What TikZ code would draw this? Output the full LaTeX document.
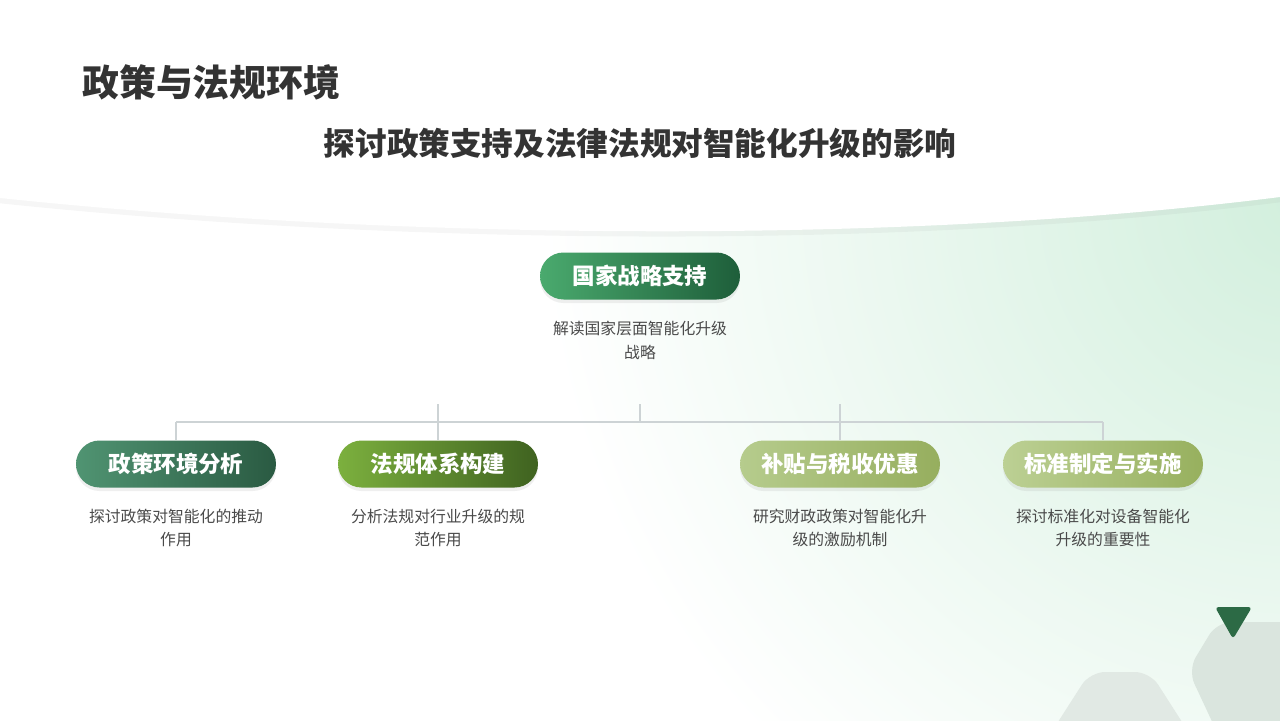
\documentclass[tikz,border=0pt]{standalone}
\usepackage{fontspec}
\setmainfont{Noto Sans CJK SC}
\usetikzlibrary{shadows}
\definecolor{titlegray}{HTML}{333333}
\definecolor{descgray}{HTML}{4A4A4A}
\definecolor{linegray}{HTML}{CDD3D5}
\definecolor{bggreen}{HTML}{D2EFDD}
\definecolor{hexgray}{HTML}{DAE5DE}
\definecolor{hexlight}{HTML}{E1E9E4}
\definecolor{tridark}{HTML}{2C6A45}
\tikzset{
    pill/.style={rectangle,rounded corners=0.47cm,minimum width=4cm,minimum height=0.94cm,
        text=white,font=\bfseries\fontsize{12.8pt}{15pt}\selectfont,
        drop shadow={opacity=0.12,shadow xshift=0pt,shadow yshift=-2pt}},
    desc/.style={align=center,text=descgray,font=\fontsize{9pt}{13.6pt}\selectfont},
    conn/.style={draw=linegray,line width=0.6pt},
}
\begin{document}
\begin{tikzpicture}[x=0.02cm,y=-0.02cm]
        \useasboundingbox(0,0)rectangle(1280,720);
        \clip(0,0)rectangle(1280,720);
        \fill[white](0,0)rectangle(1280,720);
        \shade[inner color=bggreen,outer color=white](1300,200)circle(760);
        \fill[white,drop shadow={opacity=0.07,shadow xshift=0pt,shadow yshift=-3pt}](0,-10)--(1280,-10)--(1280,197)..controls(900,245)and(400,240)..(0,198)--cycle;
        \fill[hexgray,rounded corners=0.3cm](1217,622)--(1300,622)--(1300,760)--(1230,760)--(1188,670)--cycle;
        \fill[hexlight,rounded corners=0.3cm](1090,672)--(1150,672)--(1200,750)--(1040,750)--cycle;
        \fill[tridark,rounded corners=2pt](1215,607)--(1252,607)--(1233,639)--cycle;
        \node(title)[anchor=west,text=titlegray,font=\bfseries\fontsize{21pt}{25pt}\selectfont]at(76,82){政策与法规环境};
        \node(sub)[text=titlegray,font=\bfseries\fontsize{18pt}{22pt}\selectfont]at(640,143){探讨政策支持及法律法规对智能化升级的影响};
        \node(p0)[pill,left color={rgb,255:red,74;green,170;blue,110},right color={rgb,255:red,30;green,94;blue,58}]at(640,276){国家战略支持};
        \node(p1)[pill,left color={rgb,255:red,80;green,148;blue,114},right color={rgb,255:red,42;green,90;blue,66}]at(176,464){政策环境分析};
        \node(p2)[pill,left color={rgb,255:red,124;green,176;blue,62},right color={rgb,255:red,63;green,98;blue,32}]at(438,464){法规体系构建};
        \node(p3)[pill,left color={rgb,255:red,182;green,204;blue,141},right color={rgb,255:red,150;green,174;blue,94}]at(840,464){补贴与税收优惠};
        \node(p4)[pill,left color={rgb,255:red,188;green,208;blue,148},right color={rgb,255:red,151;green,176;blue,94}]at(1103,464){标准制定与实施};
        \node(d0)[desc]at(640,340){解读国家层面智能化升级\\战略};
        \node(d1)[desc]at(176,528){探讨政策对智能化的推动\\作用};
        \node(d2)[desc]at(438,528){分析法规对行业升级的规\\范作用};
        \node(d3)[desc]at(840,528){研究财政政策对智能化升\\级的激励机制};
        \node(d4)[desc]at(1103,528){探讨标准化对设备智能化\\升级的重要性};
        \coordinate(s0)at(640,404);
        \coordinate(b0)at(640,422);
        \draw[conn](s0)--(b0);
        \draw[conn](p1.north|-b0)--(p4.north|-b0);
        \draw[conn](p1.north|-b0)--(p1.north);
        \draw[conn](p2.north|-s0)--(p2.north);
        \draw[conn](p3.north|-s0)--(p3.north);
        \draw[conn](p4.north|-b0)--(p4.north);
    \end{tikzpicture}
\end{document}
